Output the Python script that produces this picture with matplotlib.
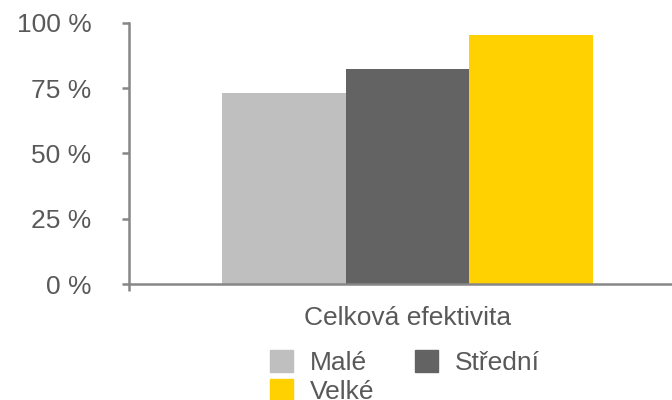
import matplotlib.pyplot as plt
from matplotlib.patches import Patch

# data
categories = ["Celková efektivita"]
series_names = ["Malé", "Střední", "Velké"]
series_values = [73.2, 82.3, 95.3]
series_colors = ["#BFBFBF", "#636363", "#FFD100"]
y_ticks = [0, 25, 50, 75, 100]

AXIS_COLOR = "#868686"
TEXT_COLOR = "#595959"

plt.rcParams["font.family"] = ["Liberation Sans", "DejaVu Sans"]

fig = plt.figure(figsize=(6.72, 4.0), dpi=100)
ax = fig.add_axes([0.192, 0.29, 0.808, 0.653])

offsets = [-1, 0, 1]
for off, name, val, col in zip(offsets, series_names, series_values, series_colors):
    ax.bar(0 + off, val, width=1.0, color=col, label=name, linewidth=0)

ax.set_ylim(0, 100)
ax.set_xlim(-2.252, 2.139)
ax.set_yticks(y_ticks)
ax.set_yticklabels([f"{t} %" for t in y_ticks])
ax.set_xticks([0])
ax.set_xticklabels(categories)
ax.set_xticks([-2.252], minor=True)

for s in ["top", "right"]:
    ax.spines[s].set_visible(False)
for s in ["left", "bottom"]:
    ax.spines[s].set_color(AXIS_COLOR)
    ax.spines[s].set_linewidth(1.8)

ax.tick_params(axis="y", length=5, width=1.8, color=AXIS_COLOR,
               labelcolor=TEXT_COLOR, labelsize=19, pad=22)
ax.tick_params(axis="x", which="major", length=0, labelcolor=TEXT_COLOR,
               labelsize=19, pad=15.5)
ax.tick_params(axis="x", which="minor", length=5, width=1.8, color=AXIS_COLOR)

handles = [Patch(color=c) for c in series_colors]
order = [0, 2, 1]
leg = fig.legend([handles[i] for i in order], [series_names[i] for i in order],
                 ncol=2, loc="upper left", bbox_to_anchor=(0.4018, 0.125),
                 frameon=False, fontsize=19, handlelength=0.88, handleheight=0.88,
                 handletextpad=0.62, columnspacing=1.55, labelspacing=0.16,
                 borderpad=0, borderaxespad=0)
for t in leg.get_texts():
    t.set_color(TEXT_COLOR)

fig.savefig("out.png", dpi=100)
